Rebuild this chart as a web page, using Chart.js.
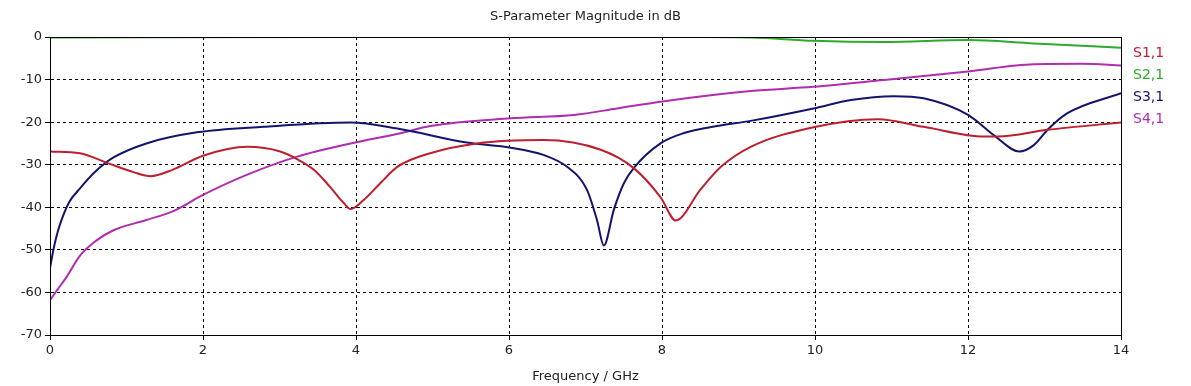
<!DOCTYPE html>
<html>
<head>
<meta charset="utf-8">
<script src="https://cdn.jsdelivr.net/npm/chart.js@4.4.1/dist/chart.umd.min.js"></script>
<style>
html,body{margin:0;padding:0;background:#fff;}
#wrap{position:relative;width:1191px;height:386px;}
</style>
</head>
<body>
<div id="wrap"><canvas id="c" width="1191" height="386"></canvas></div>
<script>
// ---- data ----
const chartTitle = 'S-Parameter Magnitude in dB';
const xAxisTitle = 'Frequency / GHz';
const seriesNames = ['S1,1', 'S2,1', 'S3,1', 'S4,1'];
const seriesColors = ['#be1e2d', '#2eaa2e', '#14146e', '#b02cb0'];

const s11Freq = [0, 0.39, 0.78, 1.1, 1.31, 1.6, 2.0, 2.58, 3.01, 3.23, 3.45, 3.66, 3.84, 3.93, 4.1, 4.32, 4.54, 4.97, 5.58, 6.45, 7.2, 7.63, 7.98, 8.18, 8.5, 8.77, 9.16, 9.98, 10.82, 11.42, 12.21, 12.39, 13.04, 14];
const s11Db   = [-26.9, -27.3, -29.8, -31.8, -32.7, -31.2, -27.9, -25.8, -26.9, -28.7, -31.2, -35.2, -39.0, -40.4, -38.3, -34.3, -30.5, -27.3, -25.0, -24.2, -26.5, -30.8, -37.6, -43.1, -35.9, -30.5, -25.8, -21.2, -19.3, -21.1, -23.4, -23.4, -21.8, -20.1];

const s21Freq = [0, 3.9, 8.5, 9.16, 9.98, 10.9, 12.0, 12.86, 14];
const s21Db   = [-0.1, 0.0, 0.0, -0.1, -0.9, -1.2, -0.7, -1.5, -2.5];

const s31Freq = [0, 0.05, 0.1, 0.15, 0.25, 0.39, 0.6, 0.83, 1.26, 1.92, 2.79, 3.93, 4.54, 5.45, 6.02, 6.45, 6.76, 7.02, 7.15, 7.24, 7.37, 7.5, 7.63, 7.98, 8.28, 8.72, 9.16, 9.98, 10.47, 11.03, 11.42, 12.0, 12.36, 12.67, 12.86, 13.04, 13.3, 14];
const s31Db   = [-54.3, -49.5, -45.8, -43.0, -38.8, -35.6, -31.5, -28.3, -25.0, -22.4, -21.1, -20.1, -21.5, -24.8, -26.0, -27.7, -30.5, -35.9, -43.0, -49.0, -40.6, -34.4, -30.8, -25.0, -22.6, -20.9, -19.7, -16.8, -14.8, -13.9, -14.4, -18.3, -23.4, -26.9, -25.4, -21.8, -17.9, -13.2];

const s41Freq = [0, 0.1, 0.22, 0.39, 0.6, 0.83, 1.26, 1.61, 2.0, 2.57, 3.23, 3.93, 4.58, 4.97, 6.02, 6.85, 7.41, 7.98, 9.16, 9.98, 10.9, 12.0, 12.86, 13.5, 14];
const s41Db   = [-61.8, -59.3, -56.3, -51.4, -47.9, -45.4, -43.0, -40.9, -37.1, -32.4, -28.1, -25.0, -22.6, -20.9, -19.1, -18.3, -16.8, -15.2, -12.7, -11.7, -10.1, -8.1, -6.4, -6.3, -6.7];

const xTicks = [0, 2, 4, 6, 8, 10, 12, 14];
const yTicks = [0, -10, -20, -30, -40, -50, -60, -70];

const freqs = [s11Freq, s21Freq, s31Freq, s41Freq];
const dbs = [s11Db, s21Db, s31Db, s41Db];

const FONT = 'DejaVu Sans, Verdana, sans-serif';

const datasets = seriesNames.map((name, i) => ({
  label: name,
  data: freqs[i].map((f, k) => ({x: f, y: dbs[i][k]})),
  borderColor: seriesColors[i],
  backgroundColor: seriesColors[i],
  borderWidth: 2,
  pointRadius: 0,
  fill: false,
  showLine: true,
  cubicInterpolationMode: 'monotone'
}));

const overlay = {
  id: 'overlay',
  afterDraw(chart) {
    const ctx = chart.ctx;
    const a = chart.chartArea;
    ctx.save();
    ctx.setLineDash([]);
    ctx.strokeStyle = '#000';
    ctx.lineWidth = 1;
    ctx.strokeRect(Math.round(a.left) + 0.5, Math.round(a.top) + 0.5, Math.round(a.right - a.left), Math.round(a.bottom - a.top));
    // title
    ctx.fillStyle = '#222';
    ctx.font = '13px ' + FONT;
    ctx.textAlign = 'center';
    ctx.textBaseline = 'middle';
    ctx.fillText(chartTitle, (a.left + a.right) / 2, 17);
    // legend
    ctx.font = '14px ' + FONT;
    ctx.textAlign = 'left';
    chart.data.datasets.forEach((ds, i) => {
      ctx.fillStyle = ds.borderColor;
      ctx.fillText(ds.label, 1133, 53 + i * 22);
    });
    ctx.restore();
  }
};

new Chart(document.getElementById('c'), {
  type: 'scatter',
  data: {datasets},
  options: {
    responsive: false,
    animation: false,
    events: [],
    layout: {padding: {left: 0, right: 70, top: 37, bottom: 0}},
    plugins: {legend: {display: false}, title: {display: false}, tooltip: {enabled: false}},
    scales: {
      x: {
        type: 'linear', min: 0, max: 14,
        afterFit(s) { s.height = 51; },
        afterBuildTicks(s) { s.ticks = xTicks.map(v => ({value: v})); },
        border: {display: true, color: '#000', width: 1, dash: [3, 3]},
        grid: {color: '#000', lineWidth: 1, tickLength: 5, tickColor: '#000', drawTicks: true},
        ticks: {color: '#222', font: {family: FONT, size: 13}, padding: 3, maxRotation: 0},
        title: {display: true, text: xAxisTitle, color: '#222', font: {family: FONT, size: 13}, padding: {top: 0, bottom: 2}}
      },
      y: {
        type: 'linear', min: -70, max: 0,
        afterFit(s) { s.width = 50; },
        afterBuildTicks(s) { s.ticks = yTicks.map(v => ({value: v})); },
        border: {display: true, color: '#000', width: 1, dash: [3, 3]},
        grid: {color: '#000', lineWidth: 1, tickLength: 5, tickColor: '#000', drawTicks: true},
        ticks: {color: '#222', font: {family: FONT, size: 13}, padding: 3}
      }
    }
  },
  plugins: [overlay]
});
</script>
</body>
</html>
